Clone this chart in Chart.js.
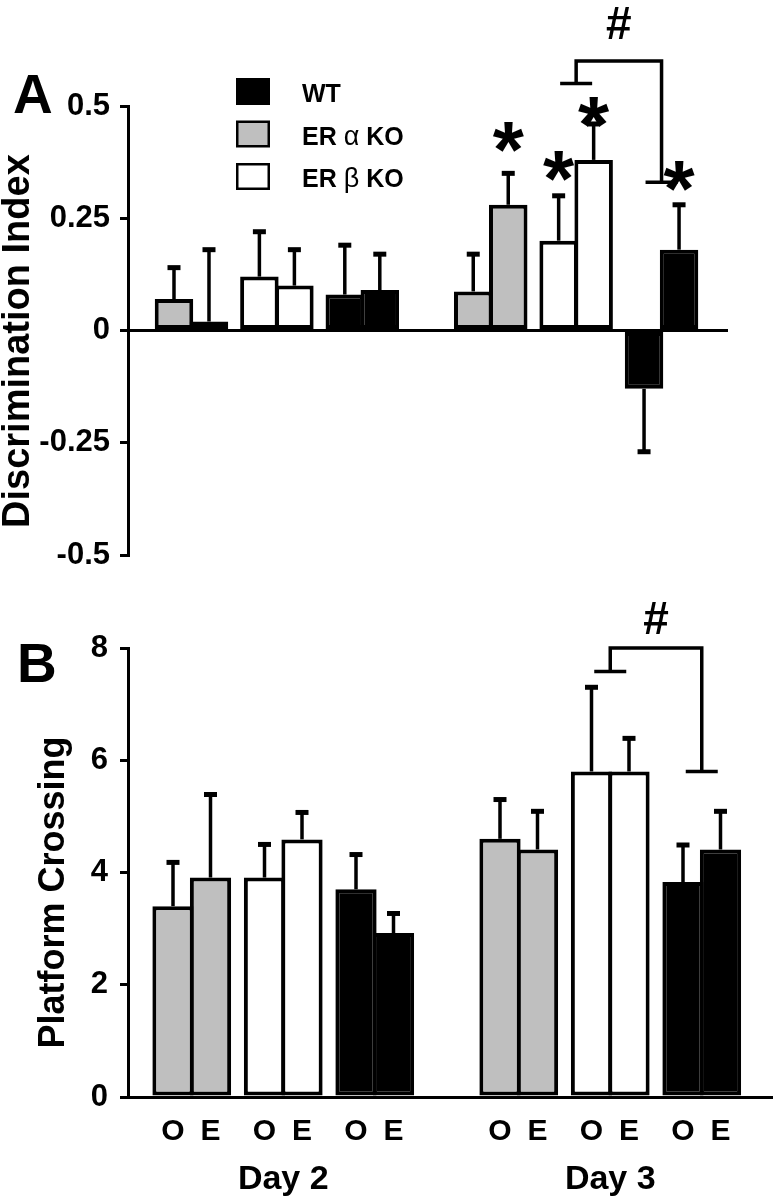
<!DOCTYPE html>
<html lang="en">
<head>
<meta charset="UTF-8">
<title>Discrimination index and platform crossing</title>
<script src="https://cdn.jsdelivr.net/npm/chart.js"></script>
<style>
  html, body { margin: 0; padding: 0; background: #fff; }
  #wrap { position: relative; width: 773px; height: 1199px; }
  canvas { position: absolute; left: 0; }
  #chartA { top: 0; }
  #chartB { top: 590px; }
</style>
</head>
<body>
<div id="wrap">
  <canvas id="chartA" width="773" height="590"></canvas>
  <canvas id="chartB" width="773" height="609"></canvas>
</div>
<script>
// categories
const days = ['Day 2', 'Day 3'];
const trials = ['O', 'E'];
const genotypes = ['WT', 'ER α KO', 'ER β KO'];

// values per genotype: [Day 2 O, Day 2 E, Day 3 O, Day 3 E]
const wtDI = [0.08, 0.09, -0.13, 0.18];
const wtDIErr = [0.11, 0.08, 0.14, 0.10];
const alphaDI = [0.07, 0.02, 0.087, 0.28];
const alphaDIErr = [0.07, 0.16, 0.083, 0.07];
const betaDI = [0.12, 0.10, 0.20, 0.38];
const betaDIErr = [0.10, 0.08, 0.10, 0.08];

const wtPC = [3.7, 2.92, 3.83, 4.41];
const wtPCErr = [0.62, 0.35, 0.66, 0.68];
const alphaPC = [3.4, 3.91, 4.6, 4.41];
const alphaPCErr = [0.78, 1.48, 0.7, 0.68];
const betaPC = [3.91, 4.59, 5.8, 5.8];
const betaPCErr = [0.59, 0.48, 1.5, 0.59];

// y ticks
const diTicks = [-0.5, -0.25, 0, 0.25, 0.5];
const pcTicks = [0, 2, 4, 6, 8];

const FONT = "'Liberation Sans', Arial, sans-serif";
const NBSP = '\u00A0';
const fills = ['#000000', '#bfbfbf', '#ffffff'];
const slotOf = [2, 0, 1];   // WT is the third pair in each day, then ER alpha, ER beta
const PAIR_STEP = 2.44;

function barX(dayStart, d, g, k) {
  return d * dayStart + slotOf[g] * PAIR_STEP + k;
}

function makeDatasets(series, errs, dayStart) {
  return genotypes.map((name, g) => ({
    label: name,
    data: series[g].map((v, i) => ({ x: barX(dayStart, Math.floor(i / 2), g, i % 2), y: v })),
    errors: errs[g],
    backgroundColor: fills[g],
    borderColor: '#000',
    borderWidth: 4,
    borderSkipped: false,
    grouped: false,
    barPercentage: 1.1,
    categoryPercentage: 1
  }));
}

function allBarX(dayStart) {
  const xs = [];
  days.forEach((_, d) => [1, 2, 0].forEach(g => trials.forEach((_, k) => xs.push(barX(dayStart, d, g, k)))));
  return xs;
}

const errorBars = {
  id: 'errorBars',
  afterDatasetsDraw(chart) {
    const ctx = chart.ctx, ys = chart.scales.y;
    ctx.save();
    ctx.strokeStyle = '#000';
    chart.data.datasets.forEach((ds, di) => {
      chart.getDatasetMeta(di).data.forEach((bar, i) => {
        const v = ds.data[i].y, e = ds.errors[i];
        const tip = ys.getPixelForValue(v < 0 ? v - e : v + e);
        ctx.lineWidth = 3.5;
        ctx.beginPath(); ctx.moveTo(bar.x, bar.y); ctx.lineTo(bar.x, tip); ctx.stroke();
        ctx.lineWidth = 5;
        ctx.beginPath(); ctx.moveTo(bar.x - 6.5, tip); ctx.lineTo(bar.x + 6.5, tip); ctx.stroke();
      });
    });
    ctx.restore();
  }
};

// panel letter, legend, asterisks, # brackets
const marks = {
  id: 'marks',
  afterDraw(chart, args, opts) {
    const ctx = chart.ctx, xs = chart.scales.x, ys = chart.scales.y;
    ctx.save();
    ctx.fillStyle = '#000';
    ctx.strokeStyle = '#000';

    ctx.font = 'bold 55px ' + FONT;
    ctx.textAlign = 'left';
    ctx.textBaseline = 'alphabetic';
    ctx.fillText(opts.letter.text, opts.letter.x, opts.letter.y);

    if (opts.legend) {
      const L = opts.legend;
      chart.data.datasets.forEach((ds, i) => {
        const top = L.y + i * L.step;
        ctx.fillStyle = '#000';
        ctx.fillRect(L.x, top, 34, 27);
        ctx.fillStyle = ds.backgroundColor;
        ctx.fillRect(L.x + 2.5, top + 2.5, 29, 22);
        ctx.fillStyle = '#000';
        let tx = L.x + 66;
        ds.label.split(/([α-ω])/).forEach(part => {
          if (!part) return;
          ctx.font = /[α-ω]/.test(part) ? '27px ' + FONT : 'bold 25px ' + FONT;
          ctx.fillText(part, tx, top + 24);
          tx += ctx.measureText(part).width;
        });
      });
    }

    const meta = chart.data.datasets;
    (opts.stars || []).forEach(s => {
      const ds = meta[s.g], i = s.d * 2 + s.k;
      const v = ds.data[i].y, e = ds.errors[i];
      const cx = xs.getPixelForValue(ds.data[i].x);
      const cy = ys.getPixelForValue(v + e) - s.lift;
      ctx.font = 'bold 80px ' + FONT;
      ctx.textAlign = 'center';
      ctx.fillText('*', cx, cy + 0.57 * 80);
    });

    if (opts.bracket) {
      const b = opts.bracket;
      const lx = xs.getPixelForValue(barX(opts.dayStart, b.d, b.from, 0.5));
      const rx = xs.getPixelForValue(barX(opts.dayStart, b.d, b.to, 0.5));
      const ly = ys.getPixelForValue(b.left), ty = ys.getPixelForValue(b.top), ry = ys.getPixelForValue(b.right);
      ctx.lineWidth = 3.5;
      ctx.beginPath();
      ctx.moveTo(lx - 16, ly); ctx.lineTo(lx + 16, ly);
      ctx.moveTo(lx, ly); ctx.lineTo(lx, ty); ctx.lineTo(rx, ty); ctx.lineTo(rx, ry);
      ctx.moveTo(rx - 16, ry); ctx.lineTo(rx + 16, ry);
      ctx.stroke();
      ctx.font = 'bold 46px ' + FONT;
      ctx.textAlign = 'center';
      ctx.fillText('#', (lx + rx) / 2, ty - b.hashLift + 0.35 * 46);
    }
    ctx.restore();
  }
};

function yAxis(ticks, title, titlePad, tickPad, titleSize) {
  return {
    min: ticks[0], max: ticks[ticks.length - 1],
    afterBuildTicks: s => { s.ticks = ticks.map(v => ({ value: v })); },
    ticks: { color: '#000', padding: tickPad, font: { family: FONT, size: 31, weight: 'bold' }, callback: v => String(v) },
    grid: { drawOnChartArea: false, drawTicks: true, tickLength: 8, color: '#000', lineWidth: 3 },
    border: { color: '#000', width: 3 },
    title: { display: true, text: title, color: '#000', padding: { top: titlePad, bottom: 0 },
      font: { family: FONT, size: titleSize, weight: 'bold', lineHeight: 1 } },
    afterFit: s => { s.width = 128; }
  };
}

// Panel A
const DAY_START_A = 8.55;
const xsA = allBarX(DAY_START_A);
new Chart(document.getElementById('chartA'), {
  type: 'bar',
  data: { datasets: makeDatasets([wtDI, alphaDI, betaDI], [wtDIErr, alphaDIErr, betaDIErr], DAY_START_A) },
  options: {
    responsive: false, animation: false, devicePixelRatio: 1,
    layout: { padding: { top: 106, bottom: 35, left: 0, right: 46 } },
    scales: {
      x: {
        type: 'linear', position: { y: 0 }, min: -1.314, max: 15.8, offset: false,
        afterBuildTicks: s => { s.ticks = xsA.map(v => ({ value: v })); },
        ticks: { display: false }, grid: { display: false },
        border: { color: '#000', width: 3 }
      },
      // trailing spaces push the rotated title slightly down, as in the figure
      y: yAxis(diTicks, 'Discrimination Index' + NBSP + NBSP, 0, 10, 38)
    },
    plugins: {
      legend: { display: false }, tooltip: { enabled: false },
      marks: {
        dayStart: DAY_START_A,
        letter: { text: 'A', x: 13, y: 113 },
        legend: { x: 236, y: 78, step: 42.5 },
        stars: [
          { g: 1, d: 1, k: 1, lift: 42 },
          { g: 2, d: 1, k: 0, lift: 35 },
          { g: 2, d: 1, k: 1, lift: 18 },
          { g: 0, d: 1, k: 1, lift: 34 }
        ],
        bracket: { d: 1, from: 2, to: 0, left: 0.55, top: 0.60, right: 0.33, hashLift: 38 }
      }
    }
  },
  plugins: [errorBars, marks]
});

// Panel B
const DAY_START_B = 8.72;
const xsB = allBarX(DAY_START_B);
const dayCentersB = days.map((_, d) => d * DAY_START_B + (2 * PAIR_STEP + 1) / 2);
new Chart(document.getElementById('chartB'), {
  type: 'bar',
  data: { datasets: makeDatasets([wtPC, alphaPC, betaPC], [wtPCErr, alphaPCErr, betaPCErr], DAY_START_B) },
  options: {
    responsive: false, animation: false, devicePixelRatio: 1,
    layout: { padding: { top: 58, bottom: 0, left: 0, right: 0 } },
    scales: {
      x: {
        type: 'linear', position: 'bottom', min: -1.2, max: 16, offset: false,
        afterBuildTicks: s => { s.ticks = xsB.map(v => ({ value: v })); },
        ticks: { color: '#000', padding: 9, autoSkip: false, maxRotation: 0,
          font: { family: FONT, size: 30, weight: 'bold' },
          callback: (v, i) => trials[i % 2] },
        grid: { display: false },
        border: { color: '#000', width: 3 },
        afterFit: s => { s.height = 52; }
      },
      x2: {
        type: 'linear', axis: 'x', position: 'bottom', weight: 1, min: -1.2, max: 16, offset: false,
        afterBuildTicks: s => { s.ticks = dayCentersB.map(v => ({ value: v })); },
        ticks: { color: '#000', padding: 2, autoSkip: false, maxRotation: 0,
          font: { family: FONT, size: 34, weight: 'bold' },
          callback: (v, i) => days[i] },
        grid: { display: false },
        border: { display: false },
        afterFit: s => { s.height = 50; }
      },
      y: yAxis(pcTicks, 'Platform Crossing' + NBSP.repeat(4), 36, 12, 36)
    },
    plugins: {
      legend: { display: false }, tooltip: { enabled: false },
      marks: {
        dayStart: DAY_START_B,
        letter: { text: 'B', x: 17, y: 92 },
        bracket: { d: 1, from: 2, to: 0, left: 7.58, top: 8.0, right: 5.8, hashLift: 30 }
      }
    }
  },
  plugins: [errorBars, marks]
});
</script>
</body>
</html>
